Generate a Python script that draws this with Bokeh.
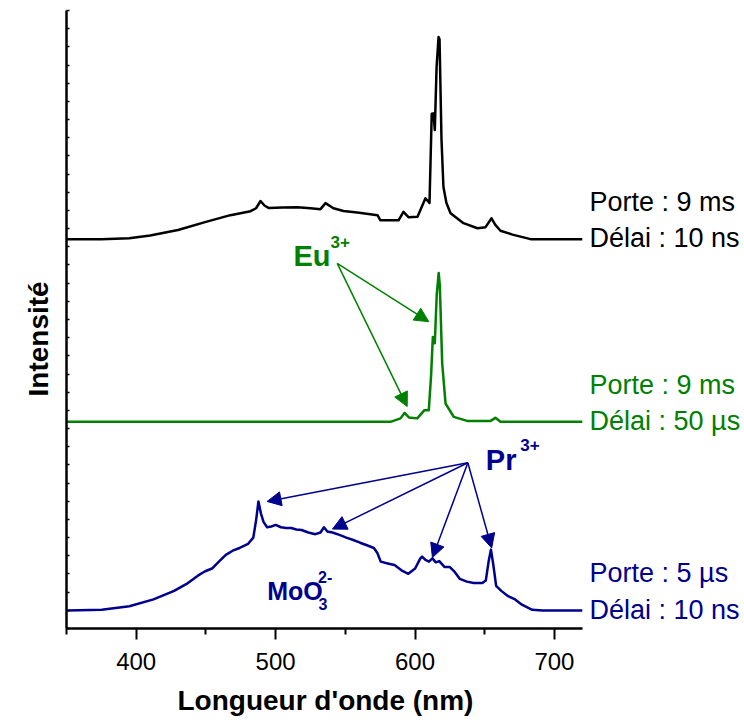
from bokeh.plotting import figure
from bokeh.models import (Range1d, FixedTicker, SingleIntervalTicker, CustomJSTickFormatter, Label, Arrow,
                          NormalHead, Title)
from bokeh.embed import file_html
from bokeh.resources import INLINE

# ---------------- data ----------------
black_nm = [350, 375, 395, 410, 430, 450, 467.6, 482, 486, 489.2, 492, 494.9, 505, 515.7, 525, 532.2, 535.8,
            541.5, 548.7, 560, 573.1, 575.2, 588.2, 591.7, 595.3, 601.8, 607.5, 610.4, 612.0, 613.3, 614.2,
            615.5, 616.9, 617.6, 619.0, 620.4, 622.5, 625.5, 634.8, 644.8, 650.6, 654.9, 657.5, 661.3, 670,
            682.9, 720]
black_I = [0, 0, 0.05, 0.2, 0.5, 0.95, 1.32, 1.54, 1.7, 2.1, 1.85, 1.72, 1.74, 1.76, 1.70, 1.65, 1.98,
           1.70, 1.55, 1.45, 1.32, 1.04, 1.04, 1.50, 1.21, 1.23, 2.25, 1.99, 6.9, 6.92, 6.0,
           9.5, 11.12, 11.0, 5.5, 2.87, 2.0, 1.43, 0.88, 0.60, 0.66, 1.15, 0.8, 0.46, 0.25,
           0, 0]

green_nm = [350, 582.4, 589.6, 592.5, 595.6, 601.6, 606.8, 609.9, 611.5, 612.8, 614.2, 615.6, 617.0, 617.8,
            619.5, 621.9, 627.8, 637.4, 654.2, 657.7, 661.3, 720]
green_I = [0, 0, 0.19, 0.49, 0.24, 0.19, 0.64, 0.64, 2.5, 4.67, 4.32, 7.0, 8.19, 7.5,
           3.23, 1.01, 0.27, 0.05, 0.05, 0.22, 0, 0]

blue_nm = [350.6, 375.3, 395.1, 412.4, 427.2, 437.1, 444.5, 449.5, 454.4, 459.3, 464.3, 469.2, 474.2, 480.3,
           484.0, 486.0, 487.7, 489.5, 491.4, 493.9, 496.9, 500.1, 503.8, 507.5, 511.2, 514.9, 518.6, 523.5,
           528.5, 532.2, 534.7, 537.1, 540.8, 545.8, 550.7, 555.7, 560.6, 565.5, 570.5, 573.0, 575.4, 580.4,
           585.3, 590.3, 595.2, 600.1, 603.8, 605.1, 607.5, 610.0, 612.5, 614.9, 617.4, 621.1, 624.8, 628.5,
           632.2, 637.2, 642.1, 648.3, 650.8, 652.8, 654.5, 656.2, 658.2, 661.9, 666.8, 671.8, 676.7, 684.1,
           691.5, 720]
blue_I = [0, 0.04, 0.23, 0.61, 1.08, 1.51, 1.93, 2.16, 2.31, 2.69, 3.06, 3.29, 3.44, 3.67,
          4.01, 4.96, 6.0, 5.33, 4.86, 4.58, 4.62, 4.71, 4.58, 4.54, 4.54, 4.46, 4.43, 4.29,
          4.20, 4.29, 4.58, 4.35, 4.29, 4.16, 4.01, 3.88, 3.73, 3.59, 3.44, 3.16, 2.69, 2.59,
          2.50, 2.21, 2.02, 2.31, 2.87, 2.97, 2.78, 2.69, 2.87, 2.65, 2.72, 2.40, 2.40, 2.12,
          1.74, 1.59, 1.51, 1.51, 1.65, 2.69, 3.35, 2.50, 1.36, 1.08, 0.79, 0.61, 0.32, 0.04,
          0, 0]

offsets = [21.42, 11.37, 0.99]
colors = ["#000000", "#008000", "#00008F"]
porte = ["Porte : 9 ms", "Porte : 9 ms", "Porte : 5 µs"]
delai = ["Délai : 10 ns", "Délai : 50 µs", "Délai : 10 ns"]
x_ticks = [400, 500, 600, 700]
x_minor = [350, 450, 550, 650]
x_min, x_max = 350, 720

FONT = "Liberation Sans"
PX_PER_NM = 1.394
FRAME_W = 678  # frame extends right so that the side labels are inside it
DY = 0.5       # small vertical shift of the text labels

p = figure(width=744, height=725, output_backend="svg", toolbar_location=None,
           x_range=Range1d(x_min, x_min + FRAME_W / PX_PER_NM), y_range=Range1d(0, 34),
           min_border_left=66, min_border_right=0, min_border_top=10, min_border_bottom=96)
p.outline_line_color = None
p.xgrid.visible = False
p.ygrid.visible = False
p.background_fill_color = "white"
p.border_fill_color = "white"

series = [(black_nm, black_I), (green_nm, green_I), (blue_nm, blue_I)]
for (xs, ys), off, c in zip(series, offsets, colors):
    p.line(xs, [v + off for v in ys], line_color=c, line_width=2.5, line_join="round")

# axes
xa = p.xaxis[0]
xa.bounds = (x_min, x_max)
xa.ticker = FixedTicker(ticks=x_ticks, minor_ticks=x_minor)
xa.axis_line_width = 2.5
xa.axis_line_color = "black"
xa.major_tick_line_width = 2
xa.minor_tick_line_width = 2
xa.major_tick_out = 11
xa.major_tick_in = 0
xa.minor_tick_out = 6
xa.minor_tick_in = 0
xa.major_label_text_font = FONT
xa.major_label_text_font_size = "24px"
xa.major_label_text_color = "black"
xa.major_label_standoff = 13

p.add_layout(Title(text="Longueur d'onde (nm)", align="left", offset=111, text_font=FONT,
                   text_font_size="28px", text_font_style="bold", text_color="black", standoff=20), "below")

ya = p.yaxis[0]
ya.ticker = SingleIntervalTicker(interval=1, num_minor_ticks=0)
ya.formatter = CustomJSTickFormatter(code="return ''")
ya.axis_line_width = 2.5
ya.axis_line_color = "black"
ya.major_tick_line_width = 1.5
ya.major_tick_in = 3
ya.major_tick_out = 0
ya.minor_tick_in = 0
ya.minor_tick_out = 0
ya.major_label_standoff = 0

p.add_layout(Title(text="Intensité", align="left", offset=232, vertical_align="top", text_font=FONT,
                   text_font_size="28px", text_font_style="bold", text_color="black", standoff=22), "left")

# right-hand labels
for off, c, t1, t2 in zip(offsets, colors, porte, delai):
    p.add_layout(Label(x=725.2, y=off + 1.55 + DY, text=t1, text_color=c, text_font=FONT,
                       text_font_size="27px", text_baseline="alphabetic", text_align="left"))
    p.add_layout(Label(x=725.2, y=off - 0.46 + DY, text=t2, text_color=c, text_font=FONT,
                       text_font_size="27px", text_baseline="alphabetic", text_align="left"))

# annotations
g = colors[1]
b = colors[2]
p.add_layout(Label(x=512.8, y=19.99 + DY, text="Eu", text_color=g, text_font=FONT, text_font_size="29px",
                   text_font_style="bold", text_baseline="alphabetic"))
p.add_layout(Label(x=539.4, y=20.79 + DY, text="3+", text_color=g, text_font=FONT, text_font_size="17px",
                   text_font_style="bold", text_baseline="alphabetic"))
for xe, ye in [(609.9, 16.88), (594.4, 12.21)]:
    p.add_layout(Arrow(end=NormalHead(size=14, fill_color=g, line_color=g), x_start=544.2, y_start=20.09,
                       x_end=xe, y_end=ye, line_color=g, line_width=1.5))

p.add_layout(Label(x=650.8, y=8.79 + DY, text="Pr", text_color=b, text_font=FONT, text_font_size="29px",
                   text_font_style="bold", text_baseline="alphabetic"))
p.add_layout(Label(x=675.5, y=9.6 + DY, text="3+", text_color=b, text_font=FONT, text_font_size="17px",
                   text_font_style="bold", text_baseline="alphabetic"))
for xe, ye in [(493.9, 6.99), (540.8, 5.47), (612.5, 3.90), (655.0, 4.43)]:
    p.add_layout(Arrow(end=NormalHead(size=14, fill_color=b, line_color=b), x_start=637.9, y_start=9.12,
                       x_end=xe, y_end=ye, line_color=b, line_width=1.5))

p.add_layout(Label(x=494, y=1.55 + DY, text="MoO", text_color=b, text_font=FONT, text_font_size="25px",
                   text_font_style="bold", text_baseline="alphabetic"))
p.add_layout(Label(x=530.5, y=2.31 + DY, text="2-", text_color=b, text_font=FONT, text_font_size="16px",
                   text_font_style="bold", text_baseline="alphabetic"))
p.add_layout(Label(x=530.7, y=0.86 + DY, text="3", text_color=b, text_font=FONT, text_font_size="16px",
                   text_font_style="bold", text_baseline="alphabetic"))

open("out.html", "w").write(file_html(p, INLINE))
